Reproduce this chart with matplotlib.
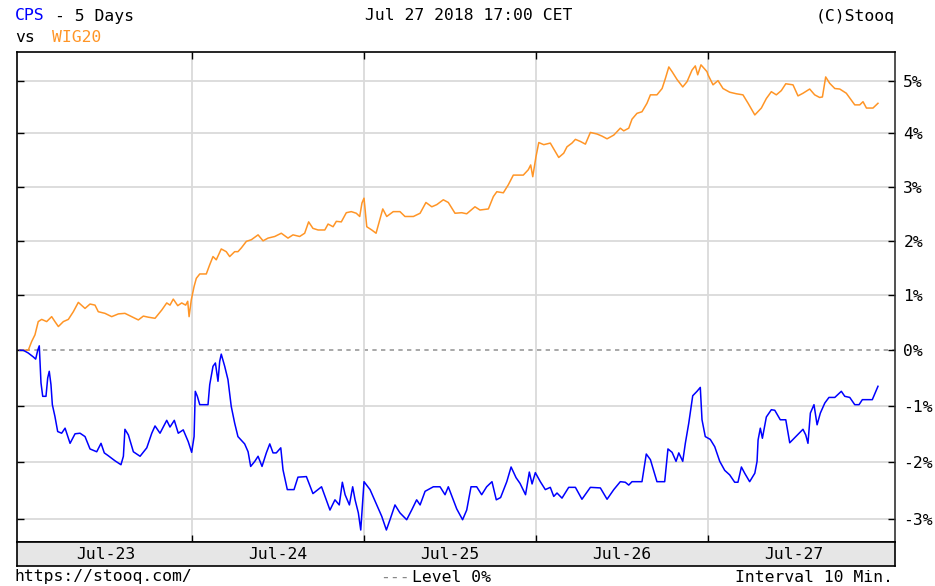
#!/usr/bin/env python3
"""CPS vs WIG20, 5 days, 10 minute interval, change against the first quote."""

import numpy as np
import matplotlib
matplotlib.use("Agg")
import matplotlib.pyplot as plt

# time in trading days from Jul-23 open, change in %
wig_t = [0.000, 0.048, 0.068, 0.087, 0.106, 0.126, 0.155, 0.184, 0.203, 0.223,
         0.252, 0.281, 0.310, 0.339, 0.378, 0.407, 0.436, 0.455, 0.494, 0.533,
         0.572, 0.610, 0.649, 0.688, 0.717, 0.746, 0.785, 0.824, 0.853, 0.872,
         0.891, 0.917, 0.940, 0.963, 0.975, 0.983, 0.996,
         1.012, 1.025, 1.045, 1.083, 1.103, 1.122, 1.141, 1.170, 1.199, 1.219,
         1.248, 1.267, 1.287, 1.316, 1.345, 1.384, 1.413, 1.442, 1.481, 1.519,
         1.558, 1.587, 1.626, 1.655, 1.678, 1.703, 1.733, 1.772, 1.791, 1.820,
         1.839, 1.868, 1.897, 1.926, 1.955, 1.975, 1.988, 2.000,
         2.016, 2.045, 2.070, 2.089, 2.109, 2.132, 2.170, 2.209, 2.238, 2.287,
         2.326, 2.360, 2.394, 2.423, 2.461, 2.490, 2.529, 2.568, 2.597, 2.645,
         2.674, 2.723, 2.752, 2.772, 2.810, 2.839, 2.868, 2.926, 2.955, 2.969,
         2.981, 3.000,
         3.016, 3.045, 3.083, 3.112, 3.132, 3.161, 3.180, 3.209, 3.229, 3.258,
         3.287, 3.316, 3.355, 3.384, 3.413, 3.452, 3.490, 3.510, 3.539, 3.558,
         3.587, 3.616, 3.645, 3.665, 3.703, 3.733, 3.752, 3.772, 3.791, 3.820,
         3.853, 3.878, 3.907, 3.926, 3.940, 3.959, 3.994,
         4.000, 4.029, 4.058, 4.087, 4.126, 4.165, 4.203, 4.233, 4.272, 4.310,
         4.339, 4.368, 4.397, 4.426, 4.452, 4.494, 4.523, 4.552, 4.591, 4.620,
         4.649, 4.665, 4.684, 4.707, 4.737, 4.766, 4.804, 4.853, 4.882, 4.901,
         4.921, 4.959, 4.988]
wig_pct = [0.00, 0.00, 0.16, 0.28, 0.52, 0.56, 0.52, 0.61, 0.52, 0.43,
           0.52, 0.56, 0.70, 0.87, 0.76, 0.84, 0.82, 0.70, 0.67, 0.61,
           0.66, 0.67, 0.61, 0.55, 0.62, 0.60, 0.58, 0.73, 0.86, 0.82,
           0.93, 0.81, 0.86, 0.82, 0.89, 0.61, 0.92,
           1.16, 1.31, 1.39, 1.39, 1.56, 1.71, 1.65, 1.85, 1.80, 1.71,
           1.80, 1.80, 1.87, 1.99, 2.02, 2.11, 2.00, 2.05, 2.08, 2.14,
           2.05, 2.11, 2.08, 2.14, 2.35, 2.23, 2.20, 2.20, 2.31, 2.26,
           2.36, 2.35, 2.52, 2.54, 2.51, 2.45, 2.70, 2.79,
           2.26, 2.20, 2.14, 2.36, 2.59, 2.45, 2.54, 2.54, 2.45, 2.45,
           2.51, 2.71, 2.63, 2.67, 2.76, 2.71, 2.51, 2.52, 2.50, 2.63,
           2.57, 2.59, 2.82, 2.91, 2.89, 3.04, 3.22, 3.22, 3.32, 3.41,
           3.19, 3.57,
           3.83, 3.79, 3.82, 3.66, 3.55, 3.63, 3.75, 3.82, 3.89, 3.85,
           3.80, 4.02, 3.99, 3.95, 3.90, 3.97, 4.10, 4.05, 4.10, 4.27,
           4.38, 4.41, 4.57, 4.73, 4.73, 4.85, 5.04, 5.26, 5.17, 5.02,
           4.88, 4.98, 5.20, 5.28, 5.11, 5.30, 5.17,
           5.11, 4.92, 5.00, 4.85, 4.78, 4.75, 4.73, 4.57, 4.35, 4.48,
           4.66, 4.79, 4.73, 4.81, 4.94, 4.92, 4.71, 4.76, 4.84, 4.73,
           4.68, 4.69, 5.07, 4.95, 4.85, 4.84, 4.76, 4.54, 4.54, 4.60,
           4.48, 4.48, 4.57]

cps_t = [0.000, 0.019, 0.048, 0.077, 0.091, 0.103, 0.112, 0.122, 0.132, 0.151,
         0.161, 0.170, 0.180, 0.188, 0.203, 0.219, 0.242, 0.262, 0.291, 0.320,
         0.349, 0.378, 0.407, 0.446, 0.471, 0.490, 0.513, 0.552, 0.587, 0.601,
         0.610, 0.630, 0.659, 0.698, 0.737, 0.766, 0.785, 0.814, 0.853, 0.872,
         0.897, 0.920, 0.949, 0.978, 0.998,
         1.012, 1.019, 1.031, 1.045, 1.093, 1.103, 1.122, 1.136, 1.151, 1.161,
         1.170, 1.190, 1.209, 1.228, 1.248, 1.267, 1.306, 1.326, 1.341, 1.365,
         1.384, 1.407, 1.432, 1.452, 1.471, 1.490, 1.516, 1.529, 1.554, 1.593,
         1.616, 1.665, 1.703, 1.753, 1.802, 1.831, 1.856, 1.874, 1.890, 1.915,
         1.934, 1.948, 1.967, 1.981, 2.000,
         2.035, 2.074, 2.103, 2.130, 2.151, 2.180, 2.209, 2.248, 2.277, 2.306,
         2.326, 2.355, 2.403, 2.442, 2.471, 2.490, 2.539, 2.573, 2.597, 2.622,
         2.655, 2.684, 2.713, 2.744, 2.769, 2.794, 2.830, 2.855, 2.884, 2.907,
         2.939, 2.961, 2.977, 2.996,
         3.025, 3.054, 3.083, 3.103, 3.122, 3.151, 3.190, 3.229, 3.267, 3.316,
         3.374, 3.413, 3.452, 3.490, 3.519, 3.539, 3.558, 3.616, 3.641, 3.665,
         3.703, 3.748, 3.767, 3.791, 3.814, 3.830, 3.853, 3.868, 3.888, 3.911,
         3.936, 3.955, 3.965, 3.984, 4.013,
         4.039, 4.068, 4.097, 4.126, 4.155, 4.174, 4.194, 4.213, 4.242, 4.272,
         4.285, 4.291, 4.304, 4.316, 4.339, 4.368, 4.388, 4.420, 4.452, 4.475,
         4.552, 4.568, 4.581, 4.595, 4.616, 4.634, 4.653, 4.679, 4.703, 4.737,
         4.775, 4.795, 4.824, 4.853, 4.878, 4.897, 4.955, 4.988]
cps_pct = [0.00, 0.00, -0.05, -0.12, -0.16, 0.00, 0.08, -0.59, -0.83, -0.83,
           -0.50, -0.38, -0.62, -0.98, -1.19, -1.46, -1.49, -1.40, -1.67, -1.50,
           -1.49, -1.55, -1.77, -1.82, -1.67, -1.84, -1.89, -1.98, -2.05, -1.90,
           -1.42, -1.52, -1.82, -1.90, -1.75, -1.49, -1.36, -1.49, -1.26, -1.38,
           -1.26, -1.49, -1.43, -1.64, -1.83,
           -1.55, -0.74, -0.83, -0.98, -0.98, -0.62, -0.29, -0.23, -0.56, -0.20,
           -0.07, -0.29, -0.53, -1.01, -1.31, -1.55, -1.68, -1.82, -2.08, -1.99,
           -1.90, -2.08, -1.84, -1.68, -1.84, -1.84, -1.75, -2.14, -2.49, -2.49,
           -2.27, -2.26, -2.56, -2.44, -2.85, -2.67, -2.76, -2.36, -2.58, -2.76,
           -2.44, -2.67, -2.90, -3.20, -2.35,
           -2.49, -2.76, -2.96, -3.20, -3.02, -2.76, -2.90, -3.02, -2.85, -2.67,
           -2.76, -2.52, -2.44, -2.44, -2.58, -2.44, -2.83, -3.02, -2.85, -2.44,
           -2.44, -2.58, -2.44, -2.35, -2.67, -2.63, -2.35, -2.09, -2.28, -2.38,
           -2.58, -2.18, -2.39, -2.19,
           -2.35, -2.49, -2.45, -2.61, -2.55, -2.64, -2.45, -2.45, -2.66, -2.45,
           -2.46, -2.66, -2.49, -2.35, -2.36, -2.41, -2.35, -2.35, -1.86, -1.96,
           -2.35, -2.35, -1.77, -1.83, -1.99, -1.84, -1.99, -1.67, -1.31, -0.82,
           -0.74, -0.67, -1.25, -1.55, -1.60,
           -1.73, -1.99, -2.15, -2.23, -2.36, -2.36, -2.09, -2.20, -2.35, -2.20,
           -1.99, -1.61, -1.40, -1.58, -1.20, -1.07, -1.08, -1.25, -1.25, -1.66,
           -1.42, -1.52, -1.67, -1.13, -0.98, -1.34, -1.13, -0.95, -0.85, -0.85,
           -0.74, -0.83, -0.85, -0.98, -0.98, -0.89, -0.89, -0.65]

days = ["Jul-23", "Jul-24", "Jul-25", "Jul-26", "Jul-27"]
pct_ticks = [-3, -2, -1, 0, 1, 2, 3, 4, 5]

BLUE = "#0000ff"
ORANGE = "#ff9526"
GRID = "#dadada"
FS = 11.8

plt.rcParams["font.family"] = "DejaVu Sans Mono"
plt.rcParams["font.size"] = FS

W, H = 935, 586


def box(x0, y0, x1, y1):
    """pixel box (top-left origin) -> figure fraction rect"""
    return [x0 / W, 1 - y1 / H, (x1 - x0) / W, (y1 - y0) / H]


def put(x, y, s, **kw):
    """text placed in pixel coords, top-left origin"""
    kw.setdefault("va", "center")
    return fig.text(x / W, 1 - y / H, s, **kw)


def fwd(p):
    return np.log1p(np.asarray(p) / 100.0)


def inv(y):
    return np.expm1(y) * 100.0


fig = plt.figure(figsize=(W / 100, H / 100), dpi=100)
ax = fig.add_axes(box(17, 52, 895, 542))
band = fig.add_axes(box(17, 542, 895, 566))

# stooq draws the ratio on a log scale
ax.set_yscale("function", functions=(fwd, inv))
ax.set_ylim(-3.41, 5.545)
ax.set_xlim(-0.0175, 5.087)

for k in pct_ticks:
    if k:
        ax.axhline(k, color=GRID, lw=1.3, zorder=1)
ax.axhline(0, color="#9a9a9a", lw=1.2, dashes=(2.6, 2.6), zorder=1)
for d in range(1, len(days)):
    ax.axvline(d, color=GRID, lw=1.3, zorder=1)

ax.plot(wig_t, wig_pct, color=ORANGE, lw=1.1, zorder=3)
ax.plot(cps_t, cps_pct, color=BLUE, lw=1.1, zorder=4)

ax.yaxis.tick_right()
ax.set_yticks(pct_ticks)
ax.set_yticklabels([f"{k}%" for k in pct_ticks])
ax.yaxis.set_minor_locator(matplotlib.ticker.NullLocator())
ax.tick_params(axis="y", direction="in", left=True, right=True, length=5,
               width=1, pad=6, labelsize=FS)
ax.set_xticks(range(1, len(days)))
ax.tick_params(axis="x", direction="in", top=True, bottom=True, length=5,
               width=1, labelbottom=False)
for s in ax.spines.values():
    s.set_linewidth(1.2)
ax.spines["right"].set_color("#333333")

band.set_xlim(ax.get_xlim())
band.set_ylim(0, 1)
band.set_facecolor("#e6e6e6")
band.set_xticks([])
band.set_yticks([])
for s in band.spines.values():
    s.set_linewidth(1.2)
for i, d in enumerate(days):
    band.text(i + 0.5, 0.48, d, ha="center", va="center", fontsize=FS)

# header
put(15, 16, "CPS", color=BLUE)
put(55, 16, "- 5 Days")
put(15, 38, "vs")
put(52, 38, "WIG20", color=ORANGE)
put(469, 16, "Jul 27 2018 17:00 CET", ha="center")
put(895, 16, "(C)Stooq", ha="right")

# footer
put(15, 577, "https://stooq.com/")
put(380, 577, "---", color="#888888")
put(412, 577, "Level 0%")
put(893, 577, "Interval 10 Min.", ha="right")

fig.savefig("out.png", dpi=100)
